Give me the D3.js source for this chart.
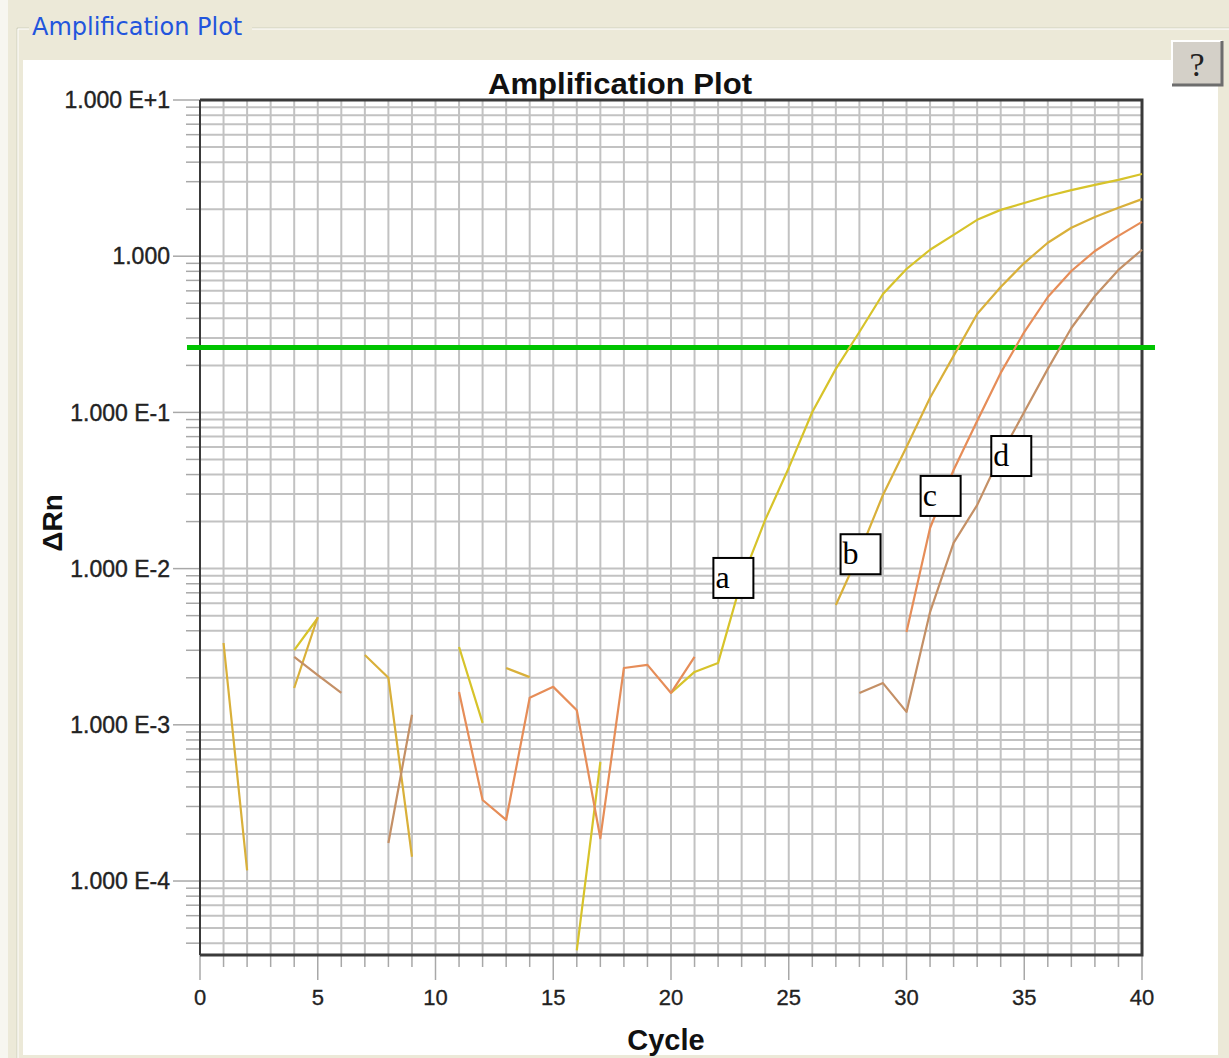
<!DOCTYPE html>
<html>
<head>
<meta charset="utf-8">
<script src="https://cdn.jsdelivr.net/npm/d3@7"></script>
<style>
  body { margin: 0; background: #ECE9D8; }
  svg { display: block; }
</style>
</head>
<body>
<svg id="chart"></svg>
<script>
// cycles and delta Rn per well (null = not plotted, value <= 0 in the run)
var cycles = [1, 2, 3, 4, 5, 6, 7, 8, 9, 10, 11, 12, 13, 14, 15, 16, 17, 18, 19, 20,
              21, 22, 23, 24, 25, 26, 27, 28, 29, 30, 31, 32, 33, 34, 35, 36, 37, 38, 39, 40];

var wellA = [null, null, null, 3.01e-3, 4.83e-3, null, null, null, null, null,
             3.15e-3, 1.03e-3, null, null, null, 3.6e-5, 5.78e-4, null, null, 1.60e-3,
             2.18e-3, 2.49e-3, 8.45e-3, 0.0205, 0.0441, 0.1006, 0.190, 0.327, 0.573, 0.828,
             1.10, 1.37, 1.71, 1.98, 2.19, 2.43, 2.65, 2.86, 3.08, 3.36];
var wellB = [3.34e-3, 1.17e-4, null, 1.72e-3, 4.9e-3, null, 2.80e-3, 2.00e-3, 1.43e-4, null,
             null, null, 2.31e-3, 2.02e-3, null, null, null, null, null, null,
             null, null, null, null, null, null, 5.85e-3, 0.0126, 0.0296, 0.060,
             0.124, 0.230, 0.427, 0.635, 0.904, 1.22, 1.52, 1.78, 2.04, 2.32];
var wellC = [null, null, null, null, null, null, null, null, null, null,
             1.62e-3, 3.30e-4, 2.46e-4, 1.49e-3, 1.75e-3, 1.24e-3, 1.88e-4, 2.31e-3, 2.42e-3, 1.60e-3,
             2.72e-3, null, null, null, null, null, null, null, null, 3.93e-3,
             0.0182, 0.0428, 0.0881, 0.179, 0.327, 0.548, 0.804, 1.08, 1.35, 1.66];
var wellD = [null, null, null, 2.72e-3, 2.08e-3, 1.60e-3, null, 1.75e-4, 1.16e-3, null,
             null, null, null, null, null, null, null, null, null, null,
             null, null, null, null, null, null, null, 1.60e-3, 1.85e-3, 1.21e-3,
             5.27e-3, 0.0146, 0.0255, 0.0533, 0.1006, 0.190, 0.347, 0.556, 0.817, 1.10];

var wellNames = ["a", "b", "c", "d"];
var wellColors = ["#D7C32A", "#D9B03A", "#E68D58", "#C49066"];

var threshold = 0.26;

// where the a-d tags sit (top-left corner, in cycle / delta Rn)
var tagCycles = [21.8, 27.2, 30.6, 33.6];
var tagValues = [0.0117, 0.0166, 0.0392, 0.0706];

var yTickValues = [10, 1, 0.1, 0.01, 0.001, 0.0001];
var yTickLabels = ["1.000 E+1", "1.000", "1.000 E-1", "1.000 E-2", "1.000 E-3", "1.000 E-4"];
var xTickValues = [0, 5, 10, 15, 20, 25, 30, 35, 40];

var W = 1229, H = 1058;
var svg = d3.select("#chart").attr("width", W).attr("height", H);

// ---- window chrome ----
svg.append("rect").attr("width", W).attr("height", H).attr("fill", "#ECE9D8");
svg.append("rect").attr("width", 8).attr("height", H).attr("fill", "#F7F6F0");
svg.append("rect").attr("x", 23).attr("y", 60).attr("width", 1195).attr("height", 995).attr("fill", "#fff");

// etched group box line
var etch = svg.append("g");
[["#D0D0BF", 0], ["#fff", 1]].forEach(function(e) {
  etch.append("path")
    .attr("d", "M" + (17 + e[1]) + "," + H + "V" + (28 + e[1]) + "H29 M252," + (28 + e[1]) + "H" + W)
    .attr("fill", "none").attr("stroke", e[0]).attr("stroke-width", 1);
});
svg.append("text").attr("x", 32).attr("y", 35)
  .attr("font-family", "DejaVu Sans").attr("font-size", 24).attr("fill", "#2255DD")
  .text("Amplification Plot");

// help button
var btn = svg.append("g");
btn.append("rect").attr("x", 1172).attr("y", 41).attr("width", 50).attr("height", 44).attr("fill", "#D4D0C8");
btn.append("path").attr("d", "M1172,85V41H1222").attr("fill", "none").attr("stroke", "#fff").attr("stroke-width", 2);
btn.append("path").attr("d", "M1172,85H1222V41").attr("fill", "none").attr("stroke", "#6d6d6d").attr("stroke-width", 3);
btn.append("text").attr("x", 1197).attr("y", 76).attr("text-anchor", "middle")
  .attr("font-family", "Liberation Serif").attr("font-size", 34).attr("fill", "#222").text("?");

// ---- plot ----
var x = d3.scaleLinear().domain([0, 40]).range([200, 1142]);
var y = d3.scaleLog().domain([3.36e-5, 10]).range([955, 100]);

var gridColor = "#C2C2C2";
var minorVals = [];
[-5, -4, -3, -2, -1, 0].forEach(function(e) {
  for (var k = 1; k <= 9; k++) {
    var v = k * Math.pow(10, e);
    if (v >= y.domain()[0] && v <= 10) minorVals.push(+v.toPrecision(3));
  }
});
minorVals.push(10);

var grid = svg.append("g");
grid.selectAll(".hg").data(minorVals).enter().append("line")
  .attr("x1", x(0)).attr("x2", x(40))
  .attr("y1", function(d) { return y(d); }).attr("y2", function(d) { return y(d); })
  .attr("stroke", gridColor).attr("stroke-width", 2);
grid.selectAll(".vg").data(d3.range(0, 41)).enter().append("line")
  .attr("y1", y(10)).attr("y2", y.range()[0])
  .attr("x1", function(d) { return x(d); }).attr("x2", function(d) { return x(d); })
  .attr("stroke", gridColor).attr("stroke-width", 2);

// y ticks (outside, left) and x ticks (below)
var ticks = svg.append("g").attr("stroke", "#A8A8A8").attr("stroke-width", 1.5);
ticks.selectAll(".yt").data(minorVals).enter().append("line")
  .attr("x1", function(d) { return yTickValues.indexOf(d) >= 0 ? 173 : 186; })
  .attr("x2", x(0))
  .attr("y1", function(d) { return y(d); }).attr("y2", function(d) { return y(d); });
ticks.selectAll(".xt").data(d3.range(0, 41)).enter().append("line")
  .attr("x1", function(d) { return x(d); }).attr("x2", function(d) { return x(d); })
  .attr("y1", y.range()[0])
  .attr("y2", function(d) { return d % 5 === 0 ? 980 : 967; });

// frame
svg.append("path")
  .attr("d", "M" + x(0) + "," + y(10) + "H" + x(40) + "V" + y.range()[0] + "H" + x(0))
  .attr("fill", "none").attr("stroke", "#3a3a3a").attr("stroke-width", 3);
svg.append("line").attr("x1", x(0)).attr("x2", x(0)).attr("y1", y(10)).attr("y2", y.range()[0])
  .attr("stroke", "#3a3a3a").attr("stroke-width", 2);

// tick labels
svg.selectAll(".yl").data(yTickValues).enter().append("text")
  .attr("x", 170).attr("y", function(d) { return y(d); }).attr("dy", "0.36em")
  .attr("text-anchor", "end").attr("font-family", "Liberation Sans, Arial").attr("font-size", 23)
  .attr("fill", "#222").attr("stroke", "#222").attr("stroke-width", 0.4)
  .text(function(d, i) { return yTickLabels[i]; });
svg.selectAll(".xl").data(xTickValues).enter().append("text")
  .attr("x", function(d) { return x(d); }).attr("y", 1005)
  .attr("text-anchor", "middle").attr("font-family", "Liberation Sans, Arial").attr("font-size", 22)
  .attr("fill", "#222").attr("stroke", "#222").attr("stroke-width", 0.3)
  .text(function(d) { return d; });

// titles
svg.append("text").attr("x", 620).attr("y", 94).attr("text-anchor", "middle")
  .attr("font-family", "Liberation Sans, Arial").attr("font-weight", "bold").attr("font-size", 29)
  .attr("textLength", 264).attr("lengthAdjust", "spacingAndGlyphs")
  .attr("fill", "#111").text("Amplification Plot");
svg.append("text").attr("x", 666).attr("y", 1050).attr("text-anchor", "middle")
  .attr("font-family", "Liberation Sans, Arial").attr("font-weight", "bold").attr("font-size", 29)
  .attr("fill", "#111").text("Cycle");
svg.append("text").attr("transform", "translate(62,523) rotate(-90)").attr("text-anchor", "middle")
  .attr("font-family", "Liberation Sans, Arial").attr("font-weight", "bold").attr("font-size", 28)
  .attr("fill", "#111").text("\u0394Rn");

// threshold
svg.append("line").attr("x1", 187).attr("x2", 1155)
  .attr("y1", y(threshold)).attr("y2", y(threshold))
  .attr("stroke", "#00C400").attr("stroke-width", 5);

// amplification curves
var wells = [wellA, wellB, wellC, wellD];
var line = d3.line()
  .defined(function(d) { return d[1] != null; })
  .x(function(d) { return x(d[0]); })
  .y(function(d) { return y(d[1]); });

svg.append("g").selectAll("path").data(wells).enter().append("path")
  .attr("d", function(w) { return line(cycles.map(function(c, i) { return [c, w[i]]; })); })
  .attr("fill", "none")
  .attr("stroke", function(w, i) { return wellColors[i]; })
  .attr("stroke-width", 2.2)
  .attr("stroke-linejoin", "round");

// a-d tags
var tags = svg.append("g").selectAll("g").data(wellNames).enter().append("g")
  .attr("transform", function(d, i) { return "translate(" + x(tagCycles[i]) + "," + y(tagValues[i]) + ")"; });
tags.append("rect").attr("width", 40).attr("height", 40)
  .attr("fill", "#fff").attr("stroke", "#000").attr("stroke-width", 2);
tags.append("text").attr("x", 2).attr("y", 30)
  .attr("font-family", "Liberation Serif, Times New Roman").attr("font-size", 32)
  .attr("fill", "#000").text(function(d) { return d; });
</script>
</body>
</html>
